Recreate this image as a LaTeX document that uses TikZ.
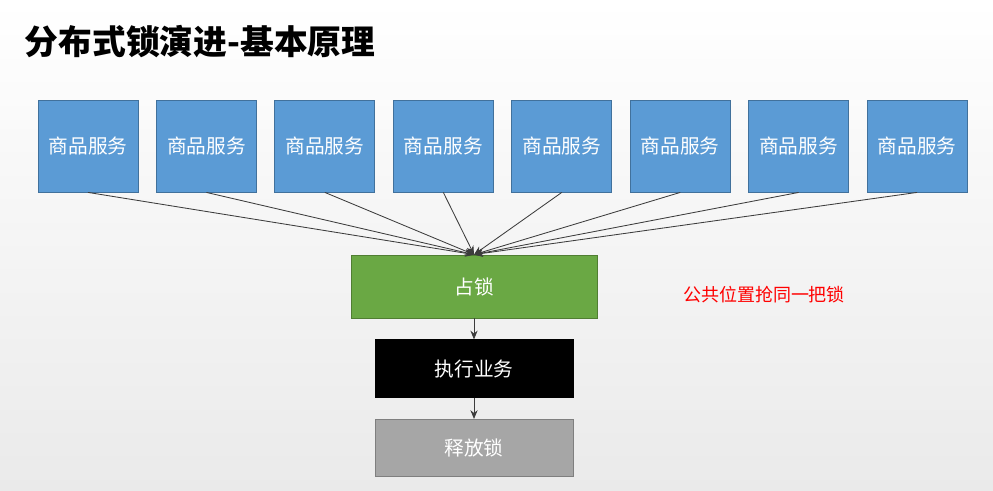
\documentclass[tikz,border=0pt]{standalone}
\usepackage{fontspec}
\setmainfont{Noto Sans CJK SC}
\usepackage{xcolor}
\definecolor{svcblue}{RGB}{91,155,213}
\definecolor{svcedge}{RGB}{65,113,156}
\definecolor{lockgreen}{RGB}{106,168,68}
\definecolor{lockedge}{RGB}{80,126,50}
\definecolor{freegray}{RGB}{166,166,166}
\definecolor{freeedge}{RGB}{127,127,127}
\definecolor{arrowgray}{RGB}{60,60,60}
\definecolor{bgbottom}{RGB}{234,234,234}
\usepackage{tikz}
\usetikzlibrary{arrows.meta, positioning}
\tikzset{
  service/.style={
    rectangle, draw=svcedge, fill=svcblue, line width=0.6pt,
    minimum width=2.5cm, minimum height=2.3cm,
    text=white, text centered, font=\fontsize{14}{16}\selectfont
  },
  lockbox/.style={
    rectangle, draw=lockedge, fill=lockgreen, line width=0.6pt,
    minimum width=6.15cm, minimum height=1.575cm,
    text=white, text centered, font=\fontsize{14}{16}\selectfont
  },
  workbox/.style={
    rectangle, draw=black, fill=black,
    minimum width=4.95cm, minimum height=1.45cm,
    text=white, text centered, font=\fontsize{14}{16}\selectfont
  },
  freebox/.style={
    rectangle, draw=freeedge, fill=freegray, line width=0.6pt,
    minimum width=4.95cm, minimum height=1.425cm,
    text=white, text centered, font=\fontsize{14}{16}\selectfont
  },
  arrow/.style={line width=0.6pt, -{Stealth[length=2.2mm, width=1.8mm]}, color=arrowgray},
}
\begin{document}
\begin{tikzpicture}[node distance=0.44cm]
  % background
  \shade[top color=white, bottom color=bgbottom] (0,0) rectangle (24.825,-12.275);

  \node (title) [anchor=west, font=\fontsize{24}{26}\selectfont\bfseries] at (0.5,-1.05) {分布式锁演进-基本原理};

  \node (s1) [service] at (2.2,-3.65)  {商品服务};
  \node (s2) [service, right=of s1]    {商品服务};
  \node (s3) [service, right=of s2]    {商品服务};
  \node (s4) [service, right=of s3]    {商品服务};
  \node (s5) [service, right=of s4]    {商品服务};
  \node (s6) [service, right=of s5]    {商品服务};
  \node (s7) [service, right=of s6]    {商品服务};
  \node (s8) [service, right=of s7]    {商品服务};

  \node (lock) [lockbox] at (11.85,-7.1625) {占锁};
  \node (work) [workbox, below=0.525cm of lock] {执行业务};
  \node (free) [freebox, below=0.525cm of work] {释放锁};

  \node (note) [text=red, font=\fontsize{12.8}{15}\selectfont] at (19.1,-7.375) {公共位置抢同一把锁};

  \draw [arrow] (s1.south) -- (lock.north);
  \draw [arrow] (s2.south) -- (lock.north);
  \draw [arrow] (s3.south) -- (lock.north);
  \draw [arrow] (s4.south) -- (lock.north);
  \draw [arrow] (s5.south) -- (lock.north);
  \draw [arrow] (s6.south) -- (lock.north);
  \draw [arrow] (s7.south) -- (lock.north);
  \draw [arrow] (s8.south) -- (lock.north);
  \draw [arrow] (lock) -- (work);
  \draw [arrow] (work) -- (free);
\end{tikzpicture}
\end{document}
